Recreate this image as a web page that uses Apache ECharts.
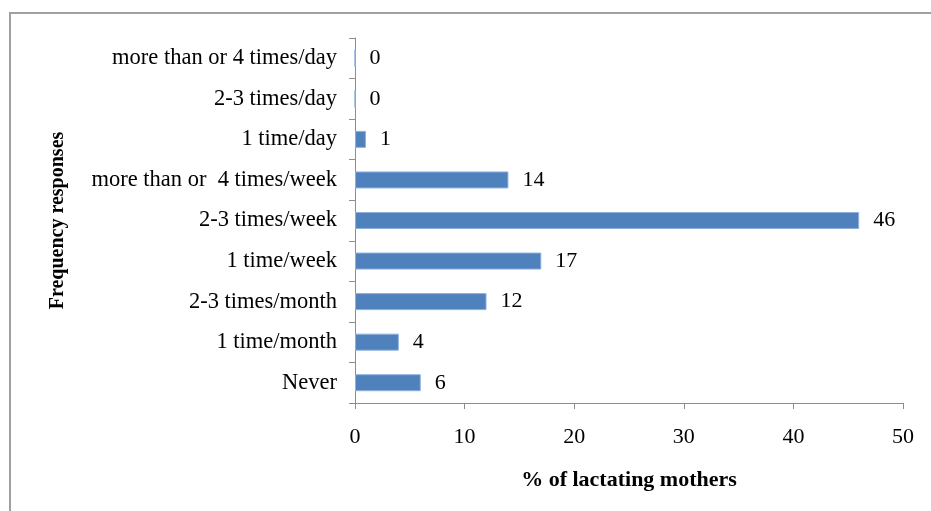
<!DOCTYPE html>
<html>
<head>
<meta charset="utf-8">
<script src="https://cdn.jsdelivr.net/npm/echarts@6/dist/echarts.min.js"></script>
<style>
  html, body { margin: 0; padding: 0; background: #fff; }
  #chart { width: 931px; height: 511px; }
</style>
</head>
<body>
<div id="chart"></div>
<script>
// categories, bottom to top
var categories = ['Never', '1 time/month', '2-3 times/month', '1 time/week', '2-3 times/week',
  'more than or  4 times/week', '1 time/day', '2-3 times/day', 'more than or 4 times/day'];
var values = [6, 4, 12, 17, 46, 14, 1, 0, 0];
var xTicks = [0, 10, 20, 30, 40, 50];

var serif = '"Liberation Serif", "DejaVu Serif", serif';
var chart = echarts.init(document.getElementById('chart'));

chart.setOption({
  backgroundColor: '#fff',
  animation: false,
  graphic: [{
    type: 'rect',
    shape: { x: 10, y: 13, width: 940, height: 520 },
    style: { fill: 'none', stroke: '#a0a0a0', lineWidth: 2 },
    z: -1
  }],
  grid: { left: 355, right: 28, top: 38, bottom: 108 },
  xAxis: {
    type: 'value',
    min: xTicks[0],
    max: xTicks[xTicks.length - 1],
    interval: 10,
    name: '% of lactating mothers',
    nameLocation: 'middle',
    nameGap: 66,
    nameTextStyle: { fontFamily: serif, fontSize: 22, fontWeight: 'bold', color: '#000' },
    axisLine: { show: true, lineStyle: { color: '#8c8c8c' } },
    axisTick: { show: true, length: 6, lineStyle: { color: '#8c8c8c' } },
    splitLine: { show: false },
    axisLabel: { fontFamily: serif, fontSize: 22, color: '#000', margin: 23 }
  },
  yAxis: {
    type: 'category',
    data: categories,
    name: 'Frequency responses',
    nameLocation: 'middle',
    nameGap: 287,
    nameRotate: 90,
    nameTextStyle: { fontFamily: serif, fontSize: 20, fontWeight: 'bold', color: '#000' },
    axisLine: { show: true, lineStyle: { color: '#8c8c8c' } },
    axisTick: { show: true, length: 6, lineStyle: { color: '#8c8c8c' } },
    axisLabel: { fontFamily: serif, fontSize: 22.5, color: '#000', margin: 18 }
  },
  series: [{
    type: 'bar',
    data: values,
    barWidth: 17,
    itemStyle: { color: '#4f81bd', borderColor: '#8fb0dc', borderWidth: 1 },
    label: {
      show: true,
      position: 'right',
      distance: 14,
      fontFamily: serif,
      fontSize: 22,
      color: '#000'
    }
  }]
});
</script>
</body>
</html>
